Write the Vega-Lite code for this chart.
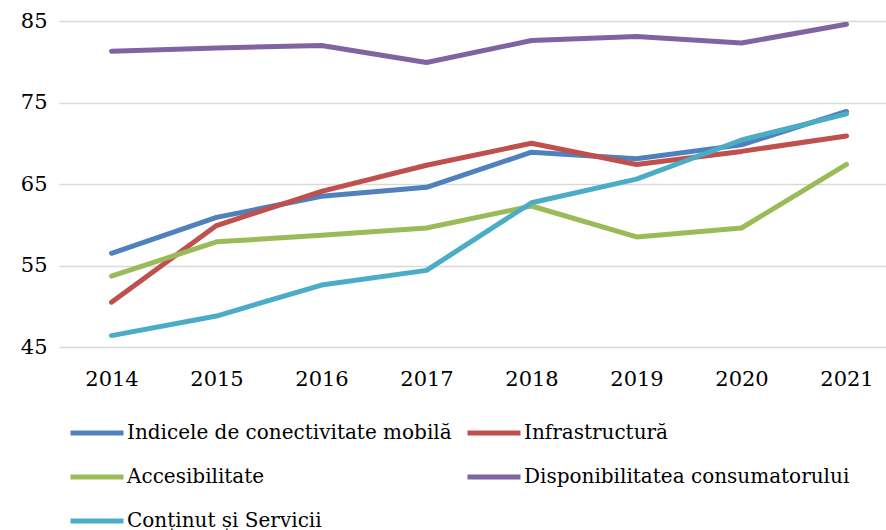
{
  "$schema": "https://vega.github.io/schema/vega-lite/v6.json",
  "width": 840,
  "height": 326,
  "autosize": {"type": "none"},
  "padding": {"left": 59, "top": 21, "right": 0, "bottom": 183},
  "background": "white",
  "config": {
    "view": {"stroke": null}
  },
  "data": {
    "values": [
      {"an": "2014", "serie": "Indicele de conectivitate mobilă", "v": 56.5},
      {"an": "2015", "serie": "Indicele de conectivitate mobilă", "v": 60.9},
      {"an": "2016", "serie": "Indicele de conectivitate mobilă", "v": 63.5},
      {"an": "2017", "serie": "Indicele de conectivitate mobilă", "v": 64.6},
      {"an": "2018", "serie": "Indicele de conectivitate mobilă", "v": 68.9},
      {"an": "2019", "serie": "Indicele de conectivitate mobilă", "v": 68.1},
      {"an": "2020", "serie": "Indicele de conectivitate mobilă", "v": 69.8},
      {"an": "2021", "serie": "Indicele de conectivitate mobilă", "v": 73.9},
      {"an": "2014", "serie": "Infrastructură", "v": 50.5},
      {"an": "2015", "serie": "Infrastructură", "v": 59.9},
      {"an": "2016", "serie": "Infrastructură", "v": 64.1},
      {"an": "2017", "serie": "Infrastructură", "v": 67.3},
      {"an": "2018", "serie": "Infrastructură", "v": 70.0},
      {"an": "2019", "serie": "Infrastructură", "v": 67.4},
      {"an": "2020", "serie": "Infrastructură", "v": 69.0},
      {"an": "2021", "serie": "Infrastructură", "v": 70.9},
      {"an": "2014", "serie": "Accesibilitate", "v": 53.7},
      {"an": "2015", "serie": "Accesibilitate", "v": 57.9},
      {"an": "2016", "serie": "Accesibilitate", "v": 58.7},
      {"an": "2017", "serie": "Accesibilitate", "v": 59.6},
      {"an": "2018", "serie": "Accesibilitate", "v": 62.3},
      {"an": "2019", "serie": "Accesibilitate", "v": 58.5},
      {"an": "2020", "serie": "Accesibilitate", "v": 59.6},
      {"an": "2021", "serie": "Accesibilitate", "v": 67.4},
      {"an": "2014", "serie": "Disponibilitatea consumatorului", "v": 81.3},
      {"an": "2015", "serie": "Disponibilitatea consumatorului", "v": 81.7},
      {"an": "2016", "serie": "Disponibilitatea consumatorului", "v": 82.0},
      {"an": "2017", "serie": "Disponibilitatea consumatorului", "v": 79.9},
      {"an": "2018", "serie": "Disponibilitatea consumatorului", "v": 82.6},
      {"an": "2019", "serie": "Disponibilitatea consumatorului", "v": 83.1},
      {"an": "2020", "serie": "Disponibilitatea consumatorului", "v": 82.3},
      {"an": "2021", "serie": "Disponibilitatea consumatorului", "v": 84.6},
      {"an": "2014", "serie": "Conținut și Servicii", "v": 46.4},
      {"an": "2015", "serie": "Conținut și Servicii", "v": 48.8},
      {"an": "2016", "serie": "Conținut și Servicii", "v": 52.6},
      {"an": "2017", "serie": "Conținut și Servicii", "v": 54.4},
      {"an": "2018", "serie": "Conținut și Servicii", "v": 62.7},
      {"an": "2019", "serie": "Conținut și Servicii", "v": 65.6},
      {"an": "2020", "serie": "Conținut și Servicii", "v": 70.4},
      {"an": "2021", "serie": "Conținut și Servicii", "v": 73.6}
    ]
  },
  "mark": {"type": "line", "strokeWidth": 5, "strokeCap": "round", "strokeJoin": "round"},
  "encoding": {
    "x": {
      "field": "an", "type": "ordinal",
      "scale": {"type": "point", "padding": 0.5},
      "axis": {"title": null, "domain": false, "ticks": false, "labelAngle": 0, "labelFont": "DejaVu Serif", "labelFontSize": 21, "labelColor": "#000000", "labelPadding": 21, "grid": false}
    },
    "y": {
      "field": "v", "type": "quantitative",
      "scale": {"domain": [45, 85], "nice": false, "zero": false},
      "axis": {"title": null, "domain": false, "ticks": false, "values": [45, 55, 65, 75, 85], "labelFont": "DejaVu Serif", "labelFontSize": 21, "labelColor": "#000000", "labelPadding": 12, "gridColor": "#D9D9D9", "gridWidth": 1.5}
    },
    "color": {
      "field": "serie", "type": "nominal",
      "sort": ["Indicele de conectivitate mobilă", "Accesibilitate", "Conținut și Servicii", "Infrastructură", "Disponibilitatea consumatorului"],
      "scale": {"range": ["#4F81BD", "#9BBB59", "#4BACC6", "#C0504D", "#8064A2"]},
      "legend": {
        "title": null, "orient": "none", "legendX": 9, "legendY": 383,
        "columns": 2, "columnPadding": 5, "rowPadding": 5,
        "symbolType": "stroke", "symbolSize": 2809, "symbolStrokeWidth": 5,
        "labelFont": "DejaVu Serif", "labelFontSize": 20, "labelColor": "#000000", "labelOffset": 1, "labelLimit": 500
      }
    }
  }
}
